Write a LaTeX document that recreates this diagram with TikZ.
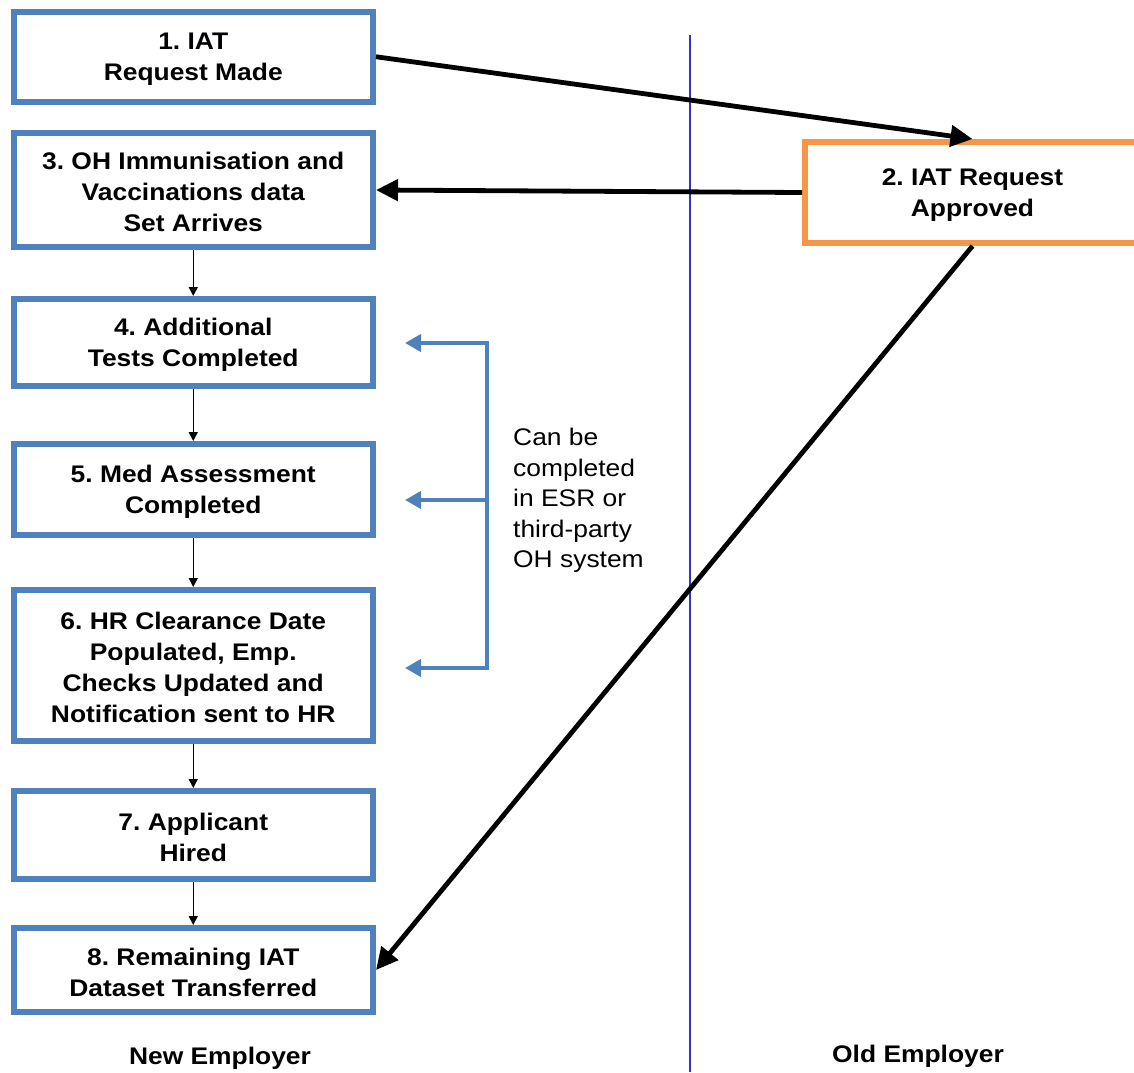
\documentclass[tikz,border=0pt]{standalone}
\usepackage{fontspec}
\setmainfont[FakeStretch=1.1]{Liberation Sans}
\usetikzlibrary{arrows.meta}
\definecolor{boxblue}{HTML}{4F81BD}
\definecolor{boxorange}{HTML}{F79646}
\definecolor{divblue}{HTML}{3333CC}
\tikzset{
  stepbox/.style={draw=boxblue, line width=6pt, fill=white, inner sep=0pt, minimum width=359.5pt,
    align=center, font=\fontsize{24}{31}\selectfont\bfseries},
  oldbox/.style={draw=boxorange, line width=6pt, fill=white, inner sep=0pt, minimum width=335pt,
    align=center, font=\fontsize{24}{31}\selectfont\bfseries},
  thick arrow/.style={line width=4.8pt, -{Triangle[length=22pt,width=21pt]}},
  thin arrow/.style={line width=1.5pt, -{Triangle[length=9pt,width=9pt]}},
  blue arrow/.style={draw=boxblue, line width=4pt, -{Triangle[length=16pt,width=17pt]}},
  side label/.style={font=\fontsize{24}{31}\selectfont\bfseries},
}
\begin{document}
\frenchspacing
\begin{tikzpicture}[x=1pt, y=-1pt]
\useasboundingbox (0,0) rectangle (1134,1072);
\clip (0,0) rectangle (1134,1072);
\fill[white] (0,0) rectangle (1134,1072);

% divider
\coordinate (dtop) at (690,35);
\coordinate (dbot) at (690,1072);
\draw[divblue, line width=1.5pt] (dtop) -- (dbot);

% boxes
\node[stepbox, minimum height=90.5pt] (b1) at (193.25,56.75) {\strut1. IAT\\Request Made};
\node[stepbox, minimum height=114pt] (b3) at (193.25,190) {\strut3. OH Immunisation and\\Vaccinations data\\Set Arrives};
\node[stepbox, minimum height=87pt] (b4) at (193.25,342.5) {\strut4. Additional\\Tests Completed};
\node[stepbox, minimum height=91pt] (b5) at (193.25,489.5) {\strut5. Med Assessment\\Completed};
\node[stepbox, minimum height=151pt] (b6) at (193.25,665.5) {\strut6. HR Clearance Date\\Populated, Emp.\\Checks Updated and\\Notification sent to HR};
\node[stepbox, minimum height=88pt] (b7) at (193.25,835) {\strut7. Applicant\\Hired};
\node[stepbox, minimum height=84pt] (b8) at (193.25,970) {\strut8. Remaining IAT\\Dataset Transferred};
\node[oldbox, minimum height=101pt] (b2) at (972.5,192.5) {\strut2. IAT Request\\Approved};

% thick connectors
\draw[thick arrow] (b1.east) -- (b2.north);
\draw[thick arrow] (b2.west) -- (b3.east);
\draw[thick arrow] (b2.south) -- (b8.east);

% thin connectors
\draw[thin arrow] (b3.south) -- (b4.north);
\draw[thin arrow] (b4.south) -- (b5.north);
\draw[thin arrow] (b5.south) -- (b6.north);
\draw[thin arrow] (b6.south) -- (b7.north);
\draw[thin arrow] (b7.south) -- (b8.north);

% bracket
\coordinate (bt) at (487,343);
\coordinate (bm) at (487,500);
\coordinate (bb) at (487,668);
\coordinate (t4) at (405,343);
\coordinate (t5) at (405,500);
\coordinate (t6) at (405,668);
\draw[boxblue, line width=4pt, line cap=rect] (bt) -- (bb);
\draw[blue arrow] (bt) -- (t4);
\draw[blue arrow] (bm) -- (t5);
\draw[blue arrow] (bb) -- (t6);

\node[anchor=north west, align=left, inner sep=0pt, font=\fontsize{24}{30.5}\selectfont] (note) at (513,428) {Can be\\completed\\in ESR or\\third-party\\OH system};

% side labels
\node[side label] (newemp) at (220,1058) {New Employer};
\node[side label] (oldemp) at (918,1056) {Old Employer};
\end{tikzpicture}
\end{document}
